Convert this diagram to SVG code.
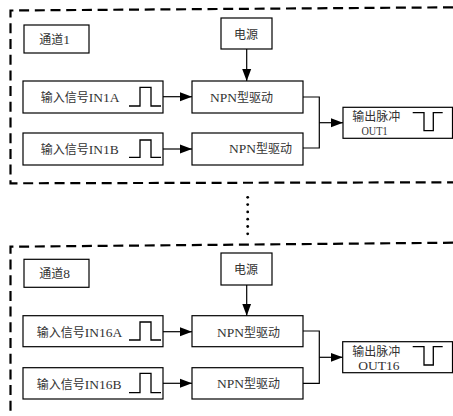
<svg xmlns="http://www.w3.org/2000/svg" width="453" height="416" viewBox="0 0 453 416">
  <style>
    .frame { fill: none; stroke: #000; stroke-width: 2.2; stroke-dasharray: 10 5.7; }
    .box { fill: #fff; stroke: #000; stroke-width: 1.2; }
    .wire { fill: none; stroke: #000; stroke-width: 1.2; }
    .pulse { fill: none; stroke: #000; stroke-width: 1.3; }
    .t { fill: #333; font-family: "Liberation Serif", "Noto Sans CJK SC", serif; font-size: 13.5px; }
    .cj { font-family: "Noto Sans CJK SC", sans-serif; font-size: 12px; }
    .dot { fill: #000; }
  </style>
  <defs>
    <marker id="arrow" markerUnits="userSpaceOnUse" markerWidth="12" markerHeight="10" refX="12" refY="5" orient="auto">
      <path d="M0,0.5 L12,5 L0,9.5 Z" fill="#000"/>
    </marker>
  </defs>

  <rect width="453" height="416" fill="#fff"/>

  <!-- channel frames (dashed) -->
  <g id="frames">
    <path class="frame" d="M453,7.3 L10.5,10.5 L10.5,183.3 L453,182.3"/>
    <path class="frame" d="M453,242.7 L10.5,246.7 L10.5,416"/>
  </g>

  <!-- channel 1 -->
  <g id="ch1-label">
    <rect class="box" x="24" y="25" width="65" height="28"/>
    <text class="t" x="39.3" y="44"><tspan class="cj" font-size="13px">通道</tspan>1</text>
  </g>
  <g id="ch1-power">
    <rect class="box" x="221" y="18" width="51" height="31"/>
    <text class="t" x="234" y="38.5"><tspan class="cj">电源</tspan></text>
  </g>
  <g id="ch1-inA">
    <rect class="box" x="23" y="81" width="140" height="32"/>
    <text class="t" x="40.7" y="101.5"><tspan class="cj">输入信号</tspan>IN1A</text>
    <path class="pulse" d="M129,106 H140 V87.3 H151 V106 H161"/>
  </g>
  <g id="ch1-inB">
    <rect class="box" x="23" y="133" width="140" height="32"/>
    <text class="t" x="40.7" y="153.5"><tspan class="cj">输入信号</tspan>IN1B</text>
    <path class="pulse" d="M129,157.3 H140 V140 H151 V157.3 H161"/>
  </g>
  <g id="ch1-drvA">
    <rect class="box" x="192" y="81" width="111" height="32"/>
    <text class="t" x="210" y="101.5" font-size="14px">NPN<tspan class="cj" font-size="11.5px">型驱动</tspan></text>
  </g>
  <g id="ch1-drvB">
    <rect class="box" x="192" y="133" width="111" height="32"/>
    <text class="t" x="229" y="153" font-size="14px">NPN<tspan class="cj" font-size="11.5px">型驱动</tspan></text>
  </g>
  <g id="ch1-out">
    <rect class="box" x="343" y="107.3" width="109.5" height="31"/>
    <text class="t" x="352.3" y="121"><tspan class="cj" font-size="11px">输出脉冲</tspan></text>
    <text class="t" x="361.5" y="135" font-size="12.5px" textLength="26" lengthAdjust="spacingAndGlyphs">OUT1</text>
    <path class="pulse" d="M412.7,112.7 H424 V130.7 H433.3 V112.7 H442.7"/>
  </g>

  <!-- channel 8 -->
  <g id="ch8-label">
    <rect class="box" x="24" y="259.3" width="65" height="28"/>
    <text class="t" x="39.3" y="278"><tspan class="cj" font-size="13px">通道</tspan>8</text>
  </g>
  <g id="ch8-power">
    <rect class="box" x="221" y="253" width="51" height="32"/>
    <text class="t" x="234" y="274"><tspan class="cj">电源</tspan></text>
  </g>
  <g id="ch8-inA">
    <rect class="box" x="23" y="315.7" width="140" height="31"/>
    <text class="t" x="36.7" y="336.5"><tspan class="cj">输入信号</tspan>IN16A</text>
    <path class="pulse" d="M129,340 H140 V322 H151 V340 H161"/>
  </g>
  <g id="ch8-inB">
    <rect class="box" x="23" y="367.7" width="140" height="31.3"/>
    <text class="t" x="36.7" y="388.5"><tspan class="cj">输入信号</tspan>IN16B</text>
    <path class="pulse" d="M129,392.7 H140 V373.3 H151 V392.7 H161"/>
  </g>
  <g id="ch8-drvA">
    <rect class="box" x="192" y="315.7" width="111" height="31"/>
    <text class="t" x="217" y="336.5" font-size="14px">NPN<tspan class="cj" font-size="11.5px">型驱动</tspan></text>
  </g>
  <g id="ch8-drvB">
    <rect class="box" x="192" y="367.7" width="111" height="31.3"/>
    <text class="t" x="217" y="388" font-size="14px">NPN<tspan class="cj" font-size="11.5px">型驱动</tspan></text>
  </g>
  <g id="ch8-out">
    <rect class="box" x="342.7" y="341.7" width="109.8" height="31"/>
    <text class="t" x="352.3" y="355.5"><tspan class="cj" font-size="12px">输出脉冲</tspan></text>
    <text class="t" x="358.3" y="370.3" font-size="13px">OUT16</text>
    <path class="pulse" d="M412.7,346.7 H424 V365 H433.3 V346.7 H442.7"/>
  </g>

  <!-- ellipsis between channels -->
  <g id="ellipsis">
    <circle class="dot" cx="247.7" cy="197.3" r="1.4"/>
    <circle class="dot" cx="247.7" cy="204.6" r="1.4"/>
    <circle class="dot" cx="247.7" cy="211.9" r="1.4"/>
    <circle class="dot" cx="247.7" cy="219.2" r="1.4"/>
    <circle class="dot" cx="247.7" cy="226.5" r="1.4"/>
    <circle class="dot" cx="247.7" cy="233.8" r="1.4"/>
  </g>

  <!-- connectors -->
  <g id="connectors">
    <line class="wire" x1="246.7" y1="49" x2="246.7" y2="81" marker-end="url(#arrow)"/>
    <line class="wire" x1="163" y1="96.7" x2="192" y2="96.7" marker-end="url(#arrow)"/>
    <line class="wire" x1="163" y1="149" x2="192" y2="149" marker-end="url(#arrow)"/>
    <path class="wire" d="M303,97 H319.3 V148 H303"/>
    <line class="wire" x1="319.3" y1="122.7" x2="343" y2="122.7" marker-end="url(#arrow)"/>

    <line class="wire" x1="246.7" y1="285" x2="246.7" y2="315.7" marker-end="url(#arrow)"/>
    <line class="wire" x1="163" y1="331.7" x2="192" y2="331.7" marker-end="url(#arrow)"/>
    <line class="wire" x1="163" y1="383.3" x2="192" y2="383.3" marker-end="url(#arrow)"/>
    <path class="wire" d="M303,331 H319.3 V383.3 H303"/>
    <line class="wire" x1="319.3" y1="357.3" x2="342.7" y2="357.3" marker-end="url(#arrow)"/>
  </g>
</svg>
